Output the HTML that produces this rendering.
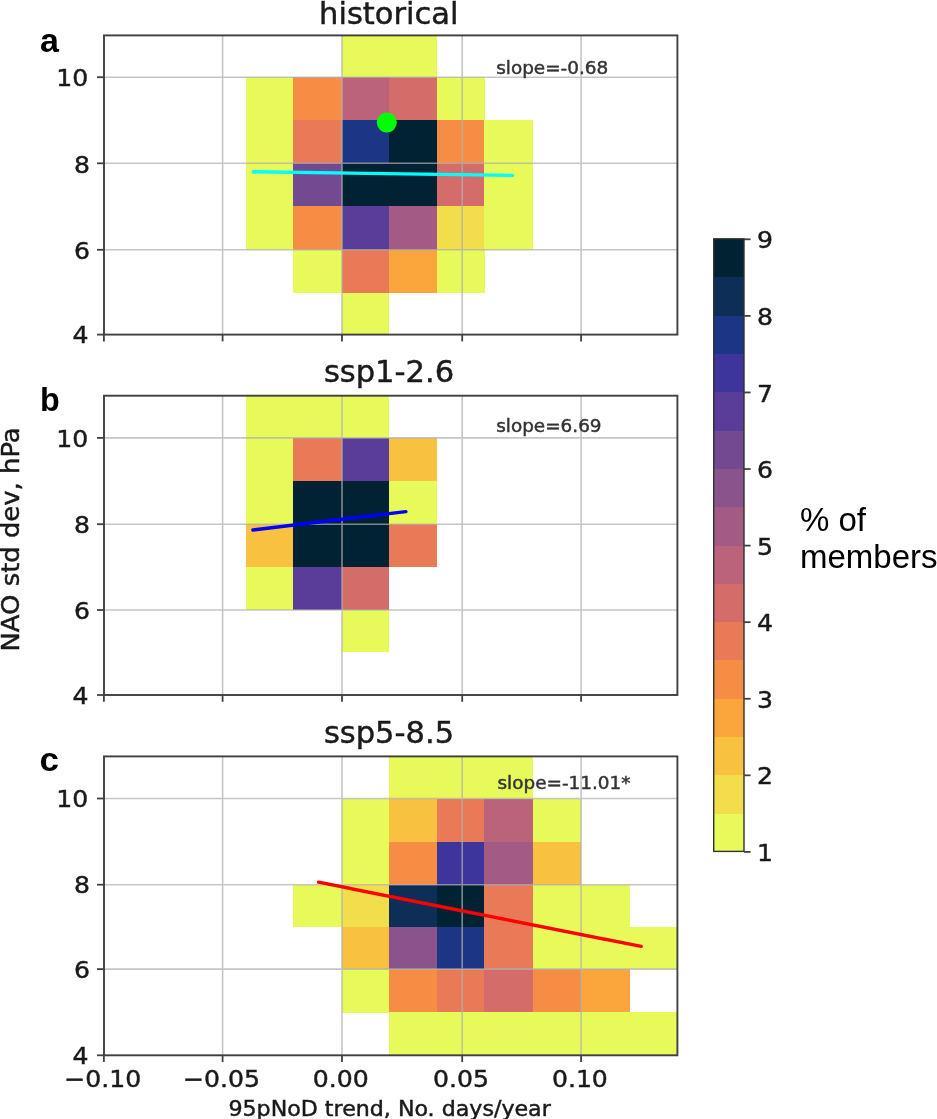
<!DOCTYPE html>
<html lang="en">
<head>
<meta charset="utf-8">
<title>NAO std dev vs 95pNoD trend</title>
<style>
html,body{margin:0;padding:0;background:#fff;}
body{width:937px;height:1119px;overflow:hidden;}
svg{display:block;}
.dj{font-family:"DejaVu Sans","Liberation Sans",sans-serif;fill:#1a1a1a;stroke:#1a1a1a;stroke-width:0.45px;}
.lib{font-family:"Liberation Sans",Arial,sans-serif;fill:#000;}
.tick{font-size:23.6px;}
.ttl{font-size:29.8px;}
.slope{font-size:17.5px;fill:#333;stroke:#333;stroke-width:0.45px;}
.lab{font-size:20.8px;}
.ylab{font-size:24.3px;}
.cbt{font-size:23.6px;}
</style>
</head>
<body>
<svg width="937" height="1119" viewBox="0 0 937 1119">
<defs><filter id="soft" filterUnits="userSpaceOnUse" x="0" y="0" width="937" height="1119"><feGaussianBlur stdDeviation="0.6"/></filter></defs>
<rect x="0" y="0" width="937" height="1119" fill="#ffffff"/>
<g filter="url(#soft)">
<!-- panel a -->
<g>
<clipPath id="clipa"><rect x="104.00" y="35.40" width="573.40" height="299.20"/></clipPath>
<g clip-path="url(#clipa)" shape-rendering="crispEdges">
<rect x="341.80" y="35.40" width="47.40" height="42.10" fill="#e7fa5a"/>
<rect x="388.90" y="35.40" width="48.10" height="42.10" fill="#e7fa5a"/>
<rect x="245.60" y="77.20" width="48.00" height="43.50" fill="#e7fa5a"/>
<rect x="293.30" y="77.20" width="48.80" height="43.50" fill="#f68d44"/>
<rect x="341.80" y="77.20" width="47.40" height="43.50" fill="#bc637b"/>
<rect x="388.90" y="77.20" width="48.10" height="43.50" fill="#d46c6b"/>
<rect x="436.70" y="77.20" width="47.90" height="43.50" fill="#e7fa5a"/>
<rect x="245.60" y="120.40" width="48.00" height="43.20" fill="#e7fa5a"/>
<rect x="293.30" y="120.40" width="48.80" height="43.20" fill="#e87a58"/>
<rect x="341.80" y="120.40" width="47.40" height="43.20" fill="#1e3484"/>
<rect x="388.90" y="120.40" width="48.10" height="43.20" fill="#032333"/>
<rect x="436.70" y="120.40" width="47.90" height="43.20" fill="#f68d44"/>
<rect x="484.30" y="120.40" width="49.00" height="43.20" fill="#e7fa5a"/>
<rect x="245.60" y="163.30" width="48.00" height="43.20" fill="#e7fa5a"/>
<rect x="293.30" y="163.30" width="48.80" height="43.20" fill="#734892"/>
<rect x="341.80" y="163.30" width="47.40" height="43.20" fill="#032333"/>
<rect x="388.90" y="163.30" width="48.10" height="43.20" fill="#032333"/>
<rect x="436.70" y="163.30" width="47.90" height="43.20" fill="#d46c6b"/>
<rect x="484.30" y="163.30" width="49.00" height="43.20" fill="#e7fa5a"/>
<rect x="245.60" y="206.20" width="48.00" height="43.90" fill="#e7fa5a"/>
<rect x="293.30" y="206.20" width="48.80" height="43.90" fill="#f68d44"/>
<rect x="341.80" y="206.20" width="47.40" height="43.90" fill="#5a3d99"/>
<rect x="388.90" y="206.20" width="48.10" height="43.90" fill="#a35a85"/>
<rect x="436.70" y="206.20" width="47.90" height="43.90" fill="#f2dd4b"/>
<rect x="484.30" y="206.20" width="49.00" height="43.90" fill="#e7fa5a"/>
<rect x="293.30" y="249.80" width="48.80" height="43.10" fill="#e7fa5a"/>
<rect x="341.80" y="249.80" width="47.40" height="43.10" fill="#e87a58"/>
<rect x="388.90" y="249.80" width="48.10" height="43.10" fill="#faa63e"/>
<rect x="436.70" y="249.80" width="47.90" height="43.10" fill="#e7fa5a"/>
<rect x="341.80" y="292.60" width="47.40" height="42.30" fill="#e7fa5a"/>
</g>
<g stroke="#b0b0b0" stroke-width="1.6" opacity="0.72" clip-path="url(#clipa)">
<line x1="222.60" y1="35.40" x2="222.60" y2="334.60"/>
<line x1="342.00" y1="35.40" x2="342.00" y2="334.60"/>
<line x1="462.20" y1="35.40" x2="462.20" y2="334.60"/>
<line x1="581.10" y1="35.40" x2="581.10" y2="334.60"/>
<line x1="104.00" y1="249.80" x2="677.40" y2="249.80"/>
<line x1="104.00" y1="163.30" x2="677.40" y2="163.30"/>
<line x1="104.00" y1="77.20" x2="677.40" y2="77.20"/>
</g>
<line x1="253.40" y1="171.70" x2="512.40" y2="175.40" stroke="#00ffff" stroke-width="3.4" stroke-linecap="round"/>
<circle cx="386.8" cy="122.6" r="10.0" fill="#00ff00"/>
<g stroke="#404040" stroke-width="1.8">
<line x1="103.90" y1="334.60" x2="103.90" y2="341.40"/>
<line x1="222.60" y1="334.60" x2="222.60" y2="341.40"/>
<line x1="342.00" y1="334.60" x2="342.00" y2="341.40"/>
<line x1="462.20" y1="334.60" x2="462.20" y2="341.40"/>
<line x1="581.10" y1="334.60" x2="581.10" y2="341.40"/>
<line x1="97.00" y1="334.60" x2="104.00" y2="334.60"/>
<line x1="97.00" y1="249.80" x2="104.00" y2="249.80"/>
<line x1="97.00" y1="163.30" x2="104.00" y2="163.30"/>
<line x1="97.00" y1="77.20" x2="104.00" y2="77.20"/>
</g>
<rect x="104.00" y="35.40" width="573.40" height="299.20" fill="none" stroke="#404040" stroke-width="1.9"/>
<text class="dj tick" text-anchor="end" transform="translate(88.60 343.20) scale(1.0650 1)">4</text>
<text class="dj tick" text-anchor="end" transform="translate(90.00 259.00) scale(1.0650 1)">6</text>
<text class="dj tick" text-anchor="end" transform="translate(90.00 172.50) scale(1.0650 1)">8</text>
<text class="dj tick" text-anchor="end" transform="translate(88.20 86.30) scale(1.0650 1)">10</text>
<text class="dj ttl" text-anchor="middle" transform="translate(388.80 24.20) scale(1.0250 1)">historical</text>
<text class="dj slope" text-anchor="start" transform="translate(496.20 73.60) scale(1.0520 1)">slope=-0.68</text>
<text class="lib" transform="translate(40.00 52.20) scale(1.00 1)" font-size="34px" font-weight="bold">a</text>
</g>
<!-- panel b -->
<g>
<clipPath id="clipb"><rect x="104.00" y="395.70" width="573.40" height="299.30"/></clipPath>
<g clip-path="url(#clipb)" shape-rendering="crispEdges">
<rect x="245.60" y="395.70" width="48.00" height="42.50" fill="#e7fa5a"/>
<rect x="293.30" y="395.70" width="48.80" height="42.50" fill="#e7fa5a"/>
<rect x="341.80" y="395.70" width="47.40" height="42.50" fill="#e7fa5a"/>
<rect x="245.60" y="437.90" width="48.00" height="43.50" fill="#e7fa5a"/>
<rect x="293.30" y="437.90" width="48.80" height="43.50" fill="#e87a58"/>
<rect x="341.80" y="437.90" width="47.40" height="43.50" fill="#5a3d99"/>
<rect x="388.90" y="437.90" width="48.10" height="43.50" fill="#f8c141"/>
<rect x="245.60" y="481.10" width="48.00" height="43.40" fill="#e7fa5a"/>
<rect x="293.30" y="481.10" width="48.80" height="43.40" fill="#032333"/>
<rect x="341.80" y="481.10" width="47.40" height="43.40" fill="#032333"/>
<rect x="388.90" y="481.10" width="48.10" height="43.40" fill="#e7fa5a"/>
<rect x="245.60" y="524.20" width="48.00" height="42.80" fill="#f8c141"/>
<rect x="293.30" y="524.20" width="48.80" height="42.80" fill="#032333"/>
<rect x="341.80" y="524.20" width="47.40" height="42.80" fill="#032333"/>
<rect x="388.90" y="524.20" width="48.10" height="42.80" fill="#e87a58"/>
<rect x="245.60" y="566.70" width="48.00" height="43.60" fill="#e7fa5a"/>
<rect x="293.30" y="566.70" width="48.80" height="43.60" fill="#5a3d99"/>
<rect x="341.80" y="566.70" width="47.40" height="43.60" fill="#d46c6b"/>
<rect x="341.80" y="610.00" width="47.40" height="42.30" fill="#e7fa5a"/>
</g>
<g stroke="#b0b0b0" stroke-width="1.6" opacity="0.72" clip-path="url(#clipb)">
<line x1="222.60" y1="395.70" x2="222.60" y2="695.00"/>
<line x1="342.00" y1="395.70" x2="342.00" y2="695.00"/>
<line x1="462.20" y1="395.70" x2="462.20" y2="695.00"/>
<line x1="581.10" y1="395.70" x2="581.10" y2="695.00"/>
<line x1="104.00" y1="610.00" x2="677.40" y2="610.00"/>
<line x1="104.00" y1="524.20" x2="677.40" y2="524.20"/>
<line x1="104.00" y1="437.90" x2="677.40" y2="437.90"/>
</g>
<line x1="252.90" y1="530.00" x2="405.90" y2="511.60" stroke="#0000ff" stroke-width="3.4" stroke-linecap="round"/>
<g stroke="#404040" stroke-width="1.8">
<line x1="103.90" y1="695.00" x2="103.90" y2="701.80"/>
<line x1="222.60" y1="695.00" x2="222.60" y2="701.80"/>
<line x1="342.00" y1="695.00" x2="342.00" y2="701.80"/>
<line x1="462.20" y1="695.00" x2="462.20" y2="701.80"/>
<line x1="581.10" y1="695.00" x2="581.10" y2="701.80"/>
<line x1="97.00" y1="695.00" x2="104.00" y2="695.00"/>
<line x1="97.00" y1="610.00" x2="104.00" y2="610.00"/>
<line x1="97.00" y1="524.20" x2="104.00" y2="524.20"/>
<line x1="97.00" y1="437.90" x2="104.00" y2="437.90"/>
</g>
<rect x="104.00" y="395.70" width="573.40" height="299.30" fill="none" stroke="#404040" stroke-width="1.9"/>
<text class="dj tick" text-anchor="end" transform="translate(88.60 703.80) scale(1.0650 1)">4</text>
<text class="dj tick" text-anchor="end" transform="translate(90.00 619.20) scale(1.0650 1)">6</text>
<text class="dj tick" text-anchor="end" transform="translate(90.00 533.40) scale(1.0650 1)">8</text>
<text class="dj tick" text-anchor="end" transform="translate(88.20 447.10) scale(1.0650 1)">10</text>
<text class="dj ttl" text-anchor="middle" transform="translate(389.00 382.30) scale(1.0250 1)">ssp1-2.6</text>
<text class="dj slope" text-anchor="start" transform="translate(496.20 432.00) scale(1.0520 1)">slope=6.69</text>
<text class="lib" transform="translate(40.00 411.10) scale(0.95 1)" font-size="34px" font-weight="bold">b</text>
</g>
<!-- panel c -->
<g>
<clipPath id="clipc"><rect x="104.00" y="756.40" width="573.40" height="298.90"/></clipPath>
<g clip-path="url(#clipc)" shape-rendering="crispEdges">
<rect x="388.90" y="756.40" width="48.10" height="42.40" fill="#e7fa5a"/>
<rect x="436.70" y="756.40" width="47.90" height="42.40" fill="#e7fa5a"/>
<rect x="484.30" y="756.40" width="49.00" height="42.40" fill="#e7fa5a"/>
<rect x="341.80" y="798.50" width="47.40" height="43.70" fill="#e7fa5a"/>
<rect x="388.90" y="798.50" width="48.10" height="43.70" fill="#f8c141"/>
<rect x="436.70" y="798.50" width="47.90" height="43.70" fill="#e87a58"/>
<rect x="484.30" y="798.50" width="49.00" height="43.70" fill="#bc637b"/>
<rect x="533.00" y="798.50" width="48.20" height="43.70" fill="#e7fa5a"/>
<rect x="341.80" y="841.90" width="47.40" height="43.10" fill="#e7fa5a"/>
<rect x="388.90" y="841.90" width="48.10" height="43.10" fill="#f68d44"/>
<rect x="436.70" y="841.90" width="47.90" height="43.10" fill="#3d349b"/>
<rect x="484.30" y="841.90" width="49.00" height="43.10" fill="#a35a85"/>
<rect x="533.00" y="841.90" width="48.20" height="43.10" fill="#f8c141"/>
<rect x="293.30" y="884.70" width="48.80" height="42.10" fill="#e7fa5a"/>
<rect x="341.80" y="884.70" width="47.40" height="42.10" fill="#f2dd4b"/>
<rect x="388.90" y="884.70" width="48.10" height="42.10" fill="#0a2d57"/>
<rect x="436.70" y="884.70" width="47.90" height="42.10" fill="#032333"/>
<rect x="484.30" y="884.70" width="49.00" height="42.10" fill="#e87a58"/>
<rect x="533.00" y="884.70" width="48.20" height="42.10" fill="#e7fa5a"/>
<rect x="580.90" y="884.70" width="48.60" height="42.10" fill="#e7fa5a"/>
<rect x="341.80" y="926.50" width="47.40" height="42.90" fill="#f8c141"/>
<rect x="388.90" y="926.50" width="48.10" height="42.90" fill="#8b528c"/>
<rect x="436.70" y="926.50" width="47.90" height="42.90" fill="#1e3484"/>
<rect x="484.30" y="926.50" width="49.00" height="42.90" fill="#e87a58"/>
<rect x="533.00" y="926.50" width="48.20" height="42.90" fill="#e7fa5a"/>
<rect x="580.90" y="926.50" width="48.60" height="42.90" fill="#e7fa5a"/>
<rect x="629.20" y="926.50" width="48.50" height="42.90" fill="#e7fa5a"/>
<rect x="341.80" y="969.10" width="47.40" height="43.60" fill="#e7fa5a"/>
<rect x="388.90" y="969.10" width="48.10" height="43.60" fill="#f68d44"/>
<rect x="436.70" y="969.10" width="47.90" height="43.60" fill="#e87a58"/>
<rect x="484.30" y="969.10" width="49.00" height="43.60" fill="#d46c6b"/>
<rect x="533.00" y="969.10" width="48.20" height="43.60" fill="#f68d44"/>
<rect x="580.90" y="969.10" width="48.60" height="43.60" fill="#faa63e"/>
<rect x="388.90" y="1012.40" width="48.10" height="43.20" fill="#e7fa5a"/>
<rect x="436.70" y="1012.40" width="47.90" height="43.20" fill="#e7fa5a"/>
<rect x="484.30" y="1012.40" width="49.00" height="43.20" fill="#e7fa5a"/>
<rect x="533.00" y="1012.40" width="48.20" height="43.20" fill="#e7fa5a"/>
<rect x="580.90" y="1012.40" width="48.60" height="43.20" fill="#e7fa5a"/>
<rect x="629.20" y="1012.40" width="48.50" height="43.20" fill="#e7fa5a"/>
</g>
<g stroke="#b0b0b0" stroke-width="1.6" opacity="0.72" clip-path="url(#clipc)">
<line x1="222.60" y1="756.40" x2="222.60" y2="1055.30"/>
<line x1="342.00" y1="756.40" x2="342.00" y2="1055.30"/>
<line x1="462.20" y1="756.40" x2="462.20" y2="1055.30"/>
<line x1="581.10" y1="756.40" x2="581.10" y2="1055.30"/>
<line x1="104.00" y1="969.10" x2="677.40" y2="969.10"/>
<line x1="104.00" y1="884.70" x2="677.40" y2="884.70"/>
<line x1="104.00" y1="798.50" x2="677.40" y2="798.50"/>
</g>
<line x1="318.60" y1="882.20" x2="641.20" y2="946.40" stroke="#ff0000" stroke-width="3.4" stroke-linecap="round"/>
<g stroke="#404040" stroke-width="1.8">
<line x1="103.90" y1="1055.30" x2="103.90" y2="1062.10"/>
<line x1="222.60" y1="1055.30" x2="222.60" y2="1062.10"/>
<line x1="342.00" y1="1055.30" x2="342.00" y2="1062.10"/>
<line x1="462.20" y1="1055.30" x2="462.20" y2="1062.10"/>
<line x1="581.10" y1="1055.30" x2="581.10" y2="1062.10"/>
<line x1="97.00" y1="1055.30" x2="104.00" y2="1055.30"/>
<line x1="97.00" y1="969.10" x2="104.00" y2="969.10"/>
<line x1="97.00" y1="884.70" x2="104.00" y2="884.70"/>
<line x1="97.00" y1="798.50" x2="104.00" y2="798.50"/>
</g>
<rect x="104.00" y="756.40" width="573.40" height="298.90" fill="none" stroke="#404040" stroke-width="1.9"/>
<text class="dj tick" text-anchor="end" transform="translate(88.60 1064.00) scale(1.0650 1)">4</text>
<text class="dj tick" text-anchor="end" transform="translate(90.00 978.30) scale(1.0650 1)">6</text>
<text class="dj tick" text-anchor="end" transform="translate(90.00 893.20) scale(1.0650 1)">8</text>
<text class="dj tick" text-anchor="end" transform="translate(88.20 806.60) scale(1.0650 1)">10</text>
<text class="dj ttl" text-anchor="middle" transform="translate(389.00 742.90) scale(1.0250 1)">ssp5-8.5</text>
<text class="dj slope" text-anchor="start" transform="translate(497.50 789.40) scale(1.0520 1)">slope=-11.01*</text>
<text class="lib" transform="translate(39.50 770.90) scale(1.03 1)" font-size="34px" font-weight="bold">c</text>
</g>
<text class="dj tick" text-anchor="middle" transform="translate(102.70 1087.10) scale(1.0650 1)">−0.10</text>
<text class="dj tick" text-anchor="middle" transform="translate(221.40 1087.10) scale(1.0650 1)">−0.05</text>
<text class="dj tick" text-anchor="middle" transform="translate(340.80 1087.10) scale(1.0650 1)">0.00</text>
<text class="dj tick" text-anchor="middle" transform="translate(461.00 1087.10) scale(1.0650 1)">0.05</text>
<text class="dj tick" text-anchor="middle" transform="translate(579.90 1087.10) scale(1.0650 1)">0.10</text>
<text class="dj lab" text-anchor="middle" transform="translate(389.60 1115.70) scale(1.0650 1)">95pNoD trend, No. days/year</text>
<text class="dj ylab" text-anchor="middle" transform="translate(19.4 539.4) rotate(-90) scale(1.0650 1)">NAO std dev, hPa</text>
<!-- colorbar -->
<g shape-rendering="crispEdges">
<rect x="713.70" y="813.11" width="30.30" height="38.69" fill="#e7fa5a"/>
<rect x="713.70" y="774.83" width="30.30" height="38.69" fill="#f2dd4b"/>
<rect x="713.70" y="736.54" width="30.30" height="38.69" fill="#f8c141"/>
<rect x="713.70" y="698.25" width="30.30" height="38.69" fill="#faa63e"/>
<rect x="713.70" y="659.96" width="30.30" height="38.69" fill="#f68d44"/>
<rect x="713.70" y="621.67" width="30.30" height="38.69" fill="#e87a58"/>
<rect x="713.70" y="583.39" width="30.30" height="38.69" fill="#d46c6b"/>
<rect x="713.70" y="545.10" width="30.30" height="38.69" fill="#bc637b"/>
<rect x="713.70" y="506.81" width="30.30" height="38.69" fill="#a35a85"/>
<rect x="713.70" y="468.53" width="30.30" height="38.69" fill="#8b528c"/>
<rect x="713.70" y="430.24" width="30.30" height="38.69" fill="#734892"/>
<rect x="713.70" y="391.95" width="30.30" height="38.69" fill="#5a3d99"/>
<rect x="713.70" y="353.66" width="30.30" height="38.69" fill="#3d349b"/>
<rect x="713.70" y="315.38" width="30.30" height="38.69" fill="#1e3484"/>
<rect x="713.70" y="277.09" width="30.30" height="38.69" fill="#0a2d57"/>
<rect x="713.70" y="238.80" width="30.30" height="38.69" fill="#032333"/>
</g>
<rect x="713.70" y="238.80" width="30.30" height="612.60" fill="none" stroke="#303030" stroke-width="1.4"/>
<line x1="744.00" y1="851.90" x2="750.60" y2="851.90" stroke="#404040" stroke-width="1.8"/>
<text class="dj cbt" text-anchor="start" transform="translate(756.90 861.00) scale(1.0650 1)">1</text>
<line x1="744.00" y1="775.33" x2="750.60" y2="775.33" stroke="#404040" stroke-width="1.8"/>
<text class="dj cbt" text-anchor="start" transform="translate(756.90 784.43) scale(1.0650 1)">2</text>
<line x1="744.00" y1="698.75" x2="750.60" y2="698.75" stroke="#404040" stroke-width="1.8"/>
<text class="dj cbt" text-anchor="start" transform="translate(756.90 707.85) scale(1.0650 1)">3</text>
<line x1="744.00" y1="622.17" x2="750.60" y2="622.17" stroke="#404040" stroke-width="1.8"/>
<text class="dj cbt" text-anchor="start" transform="translate(756.90 631.27) scale(1.0650 1)">4</text>
<line x1="744.00" y1="545.60" x2="750.60" y2="545.60" stroke="#404040" stroke-width="1.8"/>
<text class="dj cbt" text-anchor="start" transform="translate(756.90 554.70) scale(1.0650 1)">5</text>
<line x1="744.00" y1="469.03" x2="750.60" y2="469.03" stroke="#404040" stroke-width="1.8"/>
<text class="dj cbt" text-anchor="start" transform="translate(756.90 478.13) scale(1.0650 1)">6</text>
<line x1="744.00" y1="392.45" x2="750.60" y2="392.45" stroke="#404040" stroke-width="1.8"/>
<text class="dj cbt" text-anchor="start" transform="translate(756.90 401.55) scale(1.0650 1)">7</text>
<line x1="744.00" y1="315.88" x2="750.60" y2="315.88" stroke="#404040" stroke-width="1.8"/>
<text class="dj cbt" text-anchor="start" transform="translate(756.90 324.98) scale(1.0650 1)">8</text>
<line x1="744.00" y1="239.30" x2="750.60" y2="239.30" stroke="#404040" stroke-width="1.8"/>
<text class="dj cbt" text-anchor="start" transform="translate(756.90 248.40) scale(1.0650 1)">9</text>
<text class="lib" x="800.0" y="531.0" font-size="33px">% of</text>
<text class="lib" x="800.0" y="567.9" font-size="33px">members</text>
</g>
</svg>
</body>
</html>
